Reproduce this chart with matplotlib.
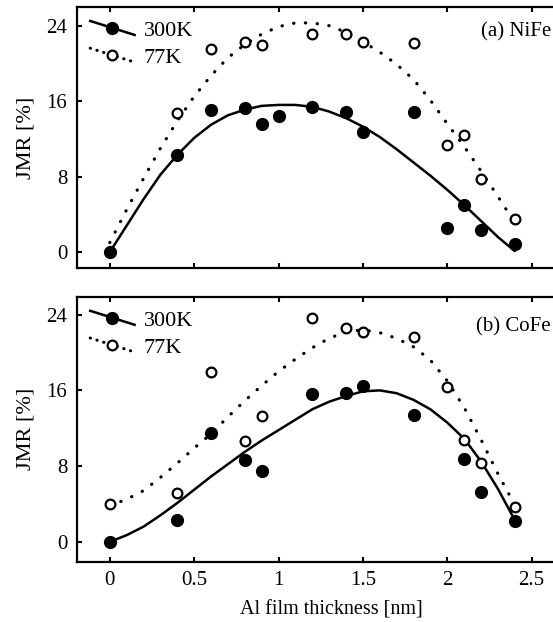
import matplotlib
matplotlib.use("Agg")
import numpy as np
import matplotlib.pyplot as plt
from matplotlib.legend_handler import HandlerLine2D

plt.rcParams['font.family'] = ['Liberation Serif', 'DejaVu Serif']

# (a) NiFe measured points
nife_300_x = [0, 0.4, 0.6, 0.8, 0.9, 1.0, 1.2, 1.4, 1.5, 1.8, 2.0, 2.1, 2.2, 2.4]
nife_300_y = [0, 10.3, 15.1, 15.3, 13.6, 14.4, 15.4, 14.8, 12.7, 14.8, 2.5, 5.0, 2.3, 0.85]
nife_77_x = [0.4, 0.6, 0.8, 0.9, 1.2, 1.4, 1.5, 1.8, 2.0, 2.1, 2.2, 2.4]
nife_77_y = [14.7, 21.5, 22.3, 22.0, 23.1, 23.1, 22.3, 22.2, 11.4, 12.4, 7.7, 3.5]

# (b) CoFe measured points
cofe_300_x = [0, 0.4, 0.6, 0.8, 0.9, 1.2, 1.4, 1.5, 1.8, 2.1, 2.2, 2.4]
cofe_300_y = [0, 2.3, 11.5, 8.6, 7.5, 15.6, 15.7, 16.5, 13.4, 8.7, 5.3, 2.2]
cofe_77_x = [0, 0.4, 0.6, 0.8, 0.9, 1.2, 1.4, 1.5, 1.8, 2.0, 2.1, 2.2, 2.4]
cofe_77_y = [4.0, 5.2, 17.9, 10.6, 13.3, 23.7, 22.6, 22.2, 21.6, 16.4, 10.8, 8.3, 3.7]

# fitted curves, every 0.1 nm
fit_x = [0, 0.1, 0.2, 0.3, 0.4, 0.5, 0.6, 0.7, 0.8, 0.9, 1.0, 1.1, 1.2,
         1.3, 1.4, 1.5, 1.6, 1.7, 1.8, 1.9, 2.0, 2.1, 2.2, 2.3, 2.4]
nife_300_fit = [0, 2.8, 5.6, 8.2, 10.3, 12.1, 13.5, 14.5, 15.1, 15.5, 15.6, 15.6, 15.4,
                14.9, 14.2, 13.3, 12.2, 10.9, 9.5, 8.1, 6.6, 5.0, 3.3, 1.6, 0.1]
nife_77_fit = [1.0, 4.5, 7.8, 11.0, 13.9, 16.5, 18.7, 20.6, 22.0, 23.1, 23.9, 24.3, 24.3,
               24.0, 23.3, 22.3, 21.2, 19.9, 18.3, 16.1, 13.6, 11.2, 8.6, 5.9, 3.1]
cofe_300_fit = [0, 0.7, 1.6, 2.8, 4.1, 5.5, 6.9, 8.2, 9.5, 10.7, 11.8, 12.9, 14.0,
                14.8, 15.4, 15.9, 16.0, 15.7, 15.0, 14.0, 12.6, 10.9, 8.5, 5.6, 2.3]
cofe_77_fit = [3.8, 4.5, 5.4, 6.8, 8.3, 9.9, 11.4, 13.2, 14.9, 16.5, 18.0, 19.3, 20.5,
               21.5, 22.2, 22.4, 22.1, 21.5, 20.6, 19.2, 17.0, 14.2, 10.8, 7.2, 3.9]

panels = [
    ("(a) NiFe", 23.4, nife_300_x, nife_300_y, nife_77_x, nife_77_y, nife_300_fit, nife_77_fit),
    ("(b) CoFe", 22.7, cofe_300_x, cofe_300_y, cofe_77_x, cofe_77_y, cofe_300_fit, cofe_77_fit),
]


class SlantedLine(HandlerLine2D):
    # legend handle drawn as a short line sloping down to the right
    def create_artists(self, legend, orig_handle, xdescent, ydescent,
                       width, height, fontsize, trans):
        artists = super().create_artists(legend, orig_handle, xdescent, ydescent,
                                         width, height, fontsize, trans)
        for a in artists:
            yd = np.asarray(a.get_ydata(), dtype=float)
            if len(yd) >= 2:
                a.set_ydata(np.linspace(yd[0] + 0.45 * height, yd[0] - 0.45 * height, len(yd)))
        return artists


fig = plt.figure(figsize=(5.53, 6.22), dpi=100)
ax_top = fig.add_axes([0.139, 0.569, 0.92, 0.420])
ax_bot = fig.add_axes([0.139, 0.097, 0.92, 0.426])

for ax, (name, ty, x3, y3, x7, y7, f3, f7) in zip([ax_top, ax_bot], panels):
    ax.plot(fit_x, f3, color='black', lw=1.8, solid_capstyle='round')
    ax.plot(fit_x, f7, color='black', lw=2.3, linestyle=(0, (0.1, 3.6)),
            dash_capstyle='round')
    # legend proxies: line + marker
    h3, = ax.plot([], [], color='black', lw=1.8, marker='o', ms=8.5, label='300K')
    h7, = ax.plot([], [], color='black', lw=2.2, linestyle=(0, (0.1, 2.2)),
                  dash_capstyle='round', marker='o', ms=7, mfc='white', mew=1.6,
                  label='77K')
    ax.plot(x3, y3, 'o', color='black', ms=8.5, zorder=3)
    ax.plot(x7, y7, 'o', mfc='white', mec='black', mew=1.6, ms=7, zorder=3)

    ax.set_xlim(-0.195, 2.82)
    ax.set_xticks([0, 0.5, 1, 1.5, 2, 2.5])
    ax.set_xticklabels(['0', '0.5', '1', '1.5', '2', '2.5'])
    ax.set_yticks([0, 8, 16, 24])
    ax.tick_params(direction='in', length=3.5, width=1.5, top=True, right=False,
                   labelsize=15, pad=7)
    for sp in ax.spines.values():
        sp.set_linewidth(1.6)
    ax.set_ylabel('JMR [%]', fontsize=16, labelpad=8)
    ax.text(2.615, ty, name, ha='right', va='center', fontsize=15)
    ax.legend(handles=[h3, h7], loc='upper left', frameon=False, fontsize=16,
              handlelength=2.0, handletextpad=0.4, labelspacing=0.3,
              borderaxespad=0.4, borderpad=0.2,
              handler_map={h3: SlantedLine(), h7: SlantedLine()})

ax_top.set_ylim(-1.7, 26.0)
ax_bot.set_ylim(-2.1, 25.9)
ax_top.tick_params(labelbottom=False)
ax_bot.set_xlabel('Al film thickness [nm]', fontsize=14.5, labelpad=7)

fig.savefig('out.png', dpi=100)
